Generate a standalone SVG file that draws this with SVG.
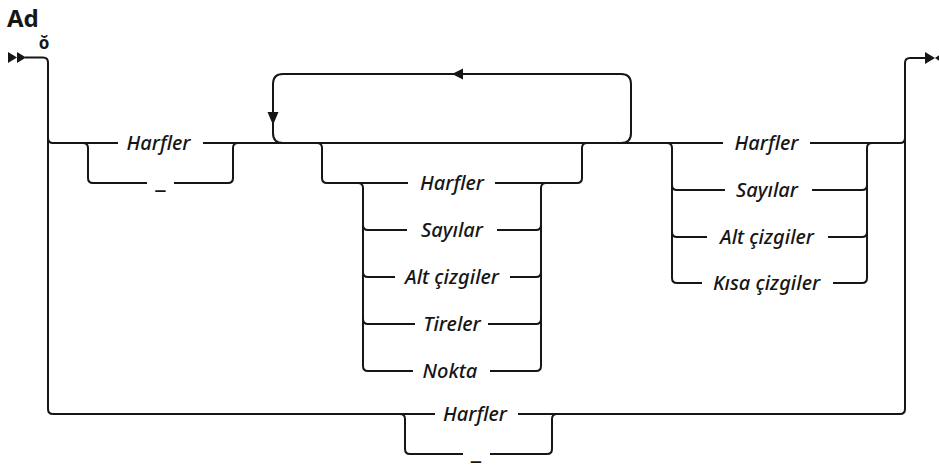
<svg xmlns="http://www.w3.org/2000/svg" width="939" height="468" viewBox="0 0 939 468">
<style>
.ln{fill:none;stroke:#161616;stroke-width:2}
.ah{fill:#161616;stroke:none}
.t{font-family:"Noto Sans","Open Sans",sans-serif;font-style:italic;font-weight:500;font-size:20px;fill:#161616;text-anchor:middle}
.u{font-family:"Noto Sans","Open Sans",sans-serif;font-weight:bold;font-size:25px;fill:#161616;text-anchor:middle}
.ttl{font-family:"Noto Sans","Open Sans",sans-serif;font-weight:bold;font-size:24px;fill:#161616}
.sym{font-family:"Noto Sans","DejaVu Sans",sans-serif;font-weight:bold;font-size:17px;fill:#161616;text-anchor:middle}
</style>
<rect width="939" height="468" fill="#fff"/>
<g id="title"><text class="ttl" x="7" y="27">Ad</text></g>
<g id="symbol"><text class="sym" x="44" y="49">ŏ</text></g>
<g id="connectors">
  <polygon class="ah" points="8,52 17,57.5 8,63"/>
  <polygon class="ah" points="17,52 26,57.5 17,63"/>
  <polygon class="ah" points="925,52 935,58 925,64"/>
  <polygon class="ah" points="944,52 935,58 944,64"/>
  <path class="ln" d="M25,57.5 H43 Q48,57.5 48,62.5 V409 Q48,414 53,414 H435"/>
  <path class="ln" d="M48,138 Q48,143 53,143 H118"/>
  <path class="ln" d="M203,143 H723"/>
  <path class="ln" d="M810,143 H900 Q905,143 905,138"/>
  <path class="ln" d="M925,58 H910 Q905,58 905,63 V409 Q905,414 900,414 H518"/>
  <path class="ln" d="M83,143 Q88,143 88,148 V178 Q88,183 93,183 H147"/>
  <path class="ln" d="M174,183 H228 Q233,183 233,178 V148 Q233,143 238,143"/>
  <path class="ln" d="M621,143 Q631,143 631,133 V84 Q631,74 621,74 H283 Q273,74 273,84 V133 Q273,143 283,143"/>
  <polygon class="ah" points="452,74 463,68.5 463,79.5"/>
  <polygon class="ah" points="273,125 267.5,112 278.5,112"/>
  <path class="ln" d="M317,143 Q322,143 322,148 V178 Q322,183 327,183 H408"/>
  <path class="ln" d="M495,183 H577 Q582,183 582,178 V148 Q582,143 587,143"/>
  <path class="ln" d="M358,183 Q363,183 363,188 V366 Q363,371 368,371 H413"/>
  <path class="ln" d="M363,225 Q363,230 368,230 H407"/>
  <path class="ln" d="M363,272 Q363,277 368,277 H395"/>
  <path class="ln" d="M363,319 Q363,324 368,324 H415"/>
  <path class="ln" d="M490,371 H536 Q541,371 541,366 V188 Q541,183 546,183"/>
  <path class="ln" d="M497,230 H536 Q541,230 541,225"/>
  <path class="ln" d="M510,277 H536 Q541,277 541,272"/>
  <path class="ln" d="M488,324 H536 Q541,324 541,319"/>
  <path class="ln" d="M667,143 Q672,143 672,148 V278 Q672,283 677,283 H702"/>
  <path class="ln" d="M672,185 Q672,190 677,190 H725"/>
  <path class="ln" d="M672,232 Q672,237 677,237 H707"/>
  <path class="ln" d="M833,283 H862 Q867,283 867,278 V148 Q867,143 872,143"/>
  <path class="ln" d="M812,190 H862 Q867,190 867,185"/>
  <path class="ln" d="M828,237 H862 Q867,237 867,232"/>
  <path class="ln" d="M400,414 Q405,414 405,419 V449 Q405,454 410,454 H463"/>
  <path class="ln" d="M490,454 H547 Q552,454 552,449 V419 Q552,414 557,414"/>
</g>
<g id="n-harfler-1"><text class="t" x="158.5" y="150">Harfler</text></g>
<g id="n-underscore-1"><text class="u" x="160.5" y="188">_</text></g>
<g id="n-harfler-2"><text class="t" x="452" y="190">Harfler</text></g>
<g id="n-sayilar-2"><text class="t" x="452" y="237">Sayılar</text></g>
<g id="n-alt-2"><text class="t" x="452" y="284">Alt çizgiler</text></g>
<g id="n-tireler-2"><text class="t" x="452" y="331">Tireler</text></g>
<g id="n-nokta-2"><text class="t" x="450" y="378">Nokta</text></g>
<g id="n-harfler-3"><text class="t" x="766.5" y="150">Harfler</text></g>
<g id="n-sayilar-3"><text class="t" x="767" y="197">Sayılar</text></g>
<g id="n-alt-3"><text class="t" x="767" y="244">Alt çizgiler</text></g>
<g id="n-kisa-3"><text class="t" x="766.5" y="290">Kısa çizgiler</text></g>
<g id="n-harfler-4"><text class="t" x="475" y="421">Harfler</text></g>
<g id="n-underscore-4"><text class="u" x="476" y="459">_</text></g>
</svg>
